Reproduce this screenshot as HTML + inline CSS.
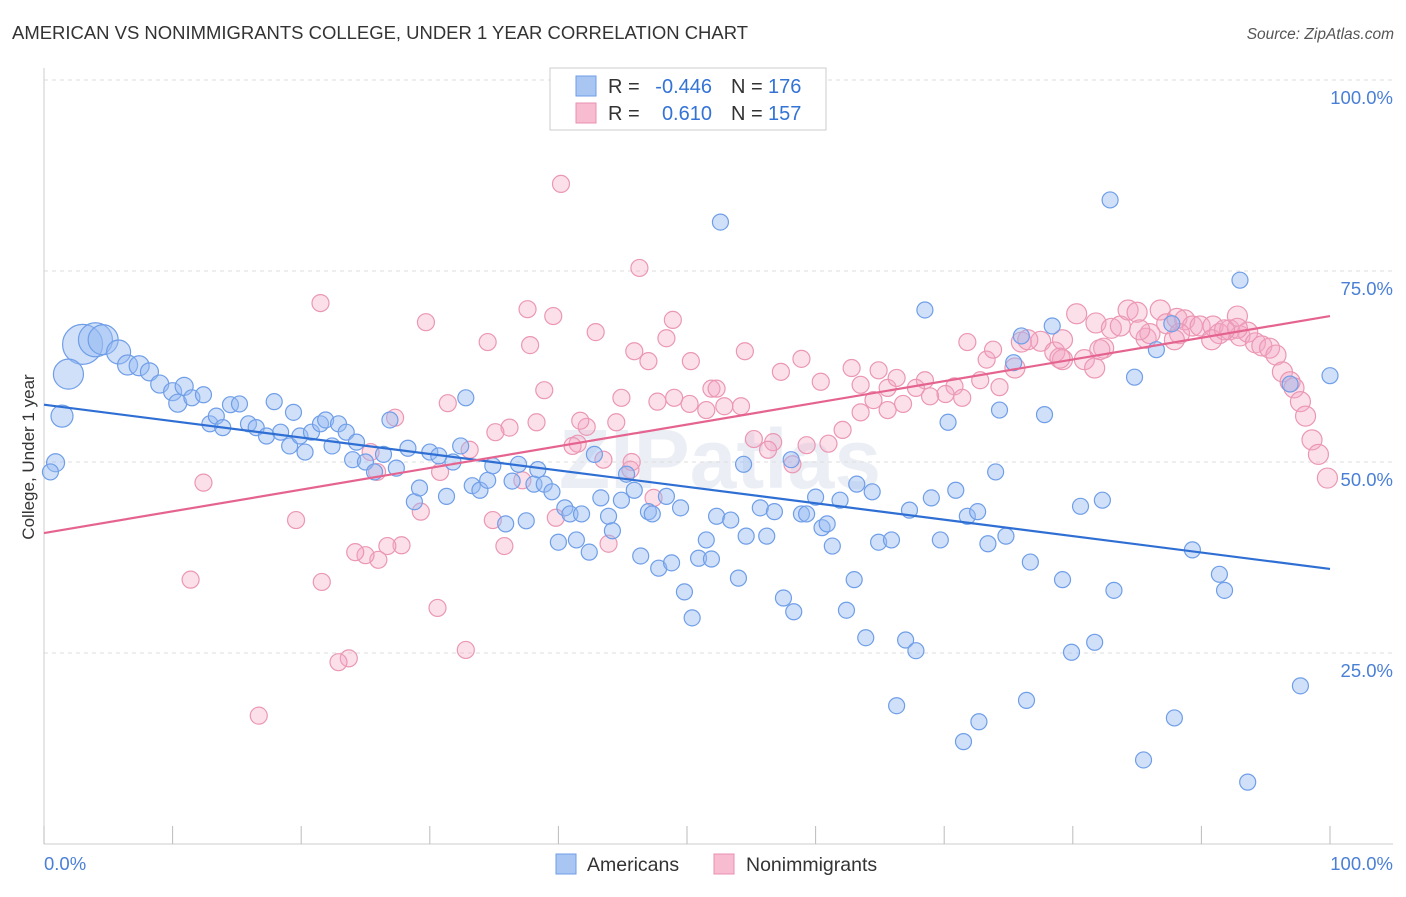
<!DOCTYPE html>
<html><head><meta charset="utf-8"><style>
body{margin:0;background:#fff;font-family:"Liberation Sans",sans-serif;}
svg text{font-family:"Liberation Sans",sans-serif;}
</style></head><body>
<svg id="chart" width="1406" height="892" viewBox="0 0 1406 892" xmlns="http://www.w3.org/2000/svg">
<text x="12" y="39" font-size="18.6" fill="#333" textLength="736" lengthAdjust="spacingAndGlyphs">AMERICAN VS NONIMMIGRANTS COLLEGE, UNDER 1 YEAR CORRELATION CHART</text>
<text x="1394" y="39" font-size="15.5" fill="#555" text-anchor="end" font-style="italic">Source: ZipAtlas.com</text>
<text x="720" y="488" font-size="84" fill="#dfe6ef" text-anchor="middle" font-weight="bold" opacity="0.6">ZIPatlas</text>
<g id="grid"></g>
<g id="marks"></g>
<g id="trends"></g>
<text transform="translate(34,457) rotate(-90)" font-size="17" fill="#333" text-anchor="middle">College, Under 1 year</text>
<text x="44" y="870" font-size="18.5" fill="#4a7fd6">0.0%</text>
<text x="1393" y="870" font-size="18.5" fill="#4a7fd6" text-anchor="end">100.0%</text>
<g>
<rect x="550" y="68" width="276" height="62" fill="#fff" stroke="#ccc"/>
<rect x="576" y="76" width="20" height="20" fill="#a9c6f3" stroke="#6f9ee8"/>
<rect x="576" y="103" width="20" height="20" fill="#f7bccf" stroke="#e990b0"/>
<text x="608" y="93" font-size="20" fill="#333">R =</text>
<text x="712" y="93" font-size="20" fill="#3373d6" text-anchor="end">-0.446</text>
<text x="731" y="93" font-size="20" fill="#333">N =</text>
<text x="768" y="93" font-size="20" fill="#3373d6">176</text>
<text x="608" y="120" font-size="20" fill="#333">R =</text>
<text x="712" y="120" font-size="20" fill="#3373d6" text-anchor="end">0.610</text>
<text x="731" y="120" font-size="20" fill="#333">N =</text>
<text x="768" y="120" font-size="20" fill="#3373d6">157</text>
</g>
<g>
<rect x="556" y="854" width="20" height="20" fill="#a9c6f3" stroke="#6f9ee8"/>
<text x="587" y="871" font-size="19.5" fill="#333">Americans</text>
<rect x="714" y="854" width="20" height="20" fill="#f7bccf" stroke="#e990b0"/>
<text x="746" y="871" font-size="19.5" fill="#333">Nonimmigrants</text>
</g>
</svg>
<script>
const yTicks=[25,50,75,100];
const yTickLabels=["25.0%","50.0%","75.0%","100.0%"];
const xTicks=[0,10,20,30,40,50,60,70,80,90,100];
const blueX=[3.0,4.0,4.6,1.9,1.4,0.9,0.5,5.8,6.5,7.4,8.2,9.0,10.0,10.9,10.4,11.5,12.4,12.9,13.4,13.9,14.5,15.2,15.9,16.5,17.3,17.9,18.4,19.1,19.4,20.3,19.9,20.8,21.5,21.9,22.4,22.9,23.5,24.0,24.3,25.0,25.7,26.4,26.9,27.4,28.3,28.8,29.2,30.0,30.7,31.3,31.8,32.4,32.8,33.3,33.9,34.5,34.9,35.9,36.4,36.9,37.5,38.1,38.4,38.9,39.5,40.0,40.5,40.9,41.4,41.8,42.4,42.8,43.3,43.9,44.2,44.9,45.3,45.9,46.4,47.0,47.3,47.8,48.4,48.8,49.5,49.8,50.4,50.9,51.5,51.9,52.3,52.6,53.4,54.0,54.4,54.6,55.7,56.2,56.8,57.5,58.1,58.3,58.9,59.3,60.0,60.5,60.9,61.3,61.9,62.4,63.0,63.2,63.9,64.4,64.9,65.9,66.3,67.0,67.3,67.8,68.5,69.0,69.7,70.3,70.9,71.5,71.8,72.6,72.7,73.4,74.0,74.3,74.8,75.4,76.0,76.4,76.7,77.8,78.4,79.2,79.9,80.6,81.7,82.3,82.9,83.2,84.8,85.5,86.5,87.7,87.9,89.3,91.4,91.8,93.0,93.6,96.9,97.7,100];
const blueY=[65.4,66.0,66.0,61.5,56.0,49.9,48.7,64.4,62.7,62.6,61.8,60.2,59.2,59.9,57.7,58.4,58.8,55.0,56.0,54.5,57.5,57.6,55.0,54.5,53.4,57.9,53.9,52.1,56.5,51.3,53.4,53.9,55.0,55.5,52.1,55.0,53.9,50.3,52.6,50.0,48.7,51.0,55.5,49.2,51.8,44.8,46.6,51.3,50.8,45.5,50.0,52.1,58.4,46.9,46.3,47.6,49.5,41.9,47.5,49.7,42.3,47.1,49.0,47.1,46.1,39.5,44.0,43.2,39.8,43.2,38.2,51.0,45.3,42.9,41.0,45.0,48.4,46.3,37.7,43.5,43.2,36.1,45.5,36.8,44.0,33.0,29.6,37.4,39.8,37.3,42.9,81.4,42.4,34.8,49.7,40.3,44.0,40.3,43.5,32.2,50.3,30.4,43.2,43.2,45.4,41.4,41.9,39.0,45.0,30.6,34.6,47.1,27.0,46.1,39.5,39.8,18.1,26.7,43.7,25.3,69.9,45.3,39.8,55.2,46.3,13.4,42.9,43.5,16.0,39.3,48.7,56.8,40.3,63.0,66.5,18.8,36.9,56.2,67.8,34.6,25.1,44.2,26.4,45.0,84.3,33.2,61.1,11.0,64.7,68.1,16.5,38.5,35.3,33.2,73.8,8.1,60.2,20.7,61.3];
const blueSize=[20,17,15,15,11,9,8,12,10,10,9,9,9,9,9];
const pinkX=[40.2,46.3,21.5,29.7,37.6,39.6,42.9,34.5,37.8,45.9,47.0,48.4,48.9,50.3,54.5,51.9,52.3,57.3,58.9,60.4,62.8,64.9,63.5,65.6,66.3,68.5,70.8,71.8,73.3,74.3,75.5,76.0,77.5,78.6,79.2,80.3,80.9,81.8,82.4,83.0,83.7,84.3,85.0,85.7,86.0,86.8,87.3,88.1,88.7,89.3,89.9,90.9,91.4,92.2,92.8,93.0,93.6,94.2,94.7,95.3,95.8,96.3,96.9,97.2,97.7,98.1,98.6,99.1,99.8,81.7,79.2,76.5,73.8,72.8,71.4,70.1,68.9,67.8,66.8,65.6,64.5,63.5,62.1,61.0,59.3,58.2,56.7,56.3,55.2,54.2,52.9,51.5,50.2,49.0,47.7,47.4,45.6,44.9,44.5,43.5,42.2,41.7,41.5,41.1,39.8,38.9,38.3,37.2,36.2,35.8,35.1,34.9,33.1,31.4,30.8,29.3,27.8,27.3,26.7,25.9,26.0,25.4,25.0,24.2,23.7,22.9,21.6,19.6,16.7,12.4,11.4,30.6,32.8,43.9,45.7,88.3,90.8,87.9,85.2,82.1,79.0,92.8,91.8];
const pinkY=[86.4,75.4,70.8,68.3,70.0,69.1,67.0,65.7,65.3,64.5,63.2,66.2,68.6,63.2,64.5,59.6,59.6,61.8,63.5,60.5,62.3,62.0,60.1,59.7,61.0,60.7,59.9,65.7,63.4,59.8,62.3,65.7,65.8,64.4,66.0,69.4,63.4,68.2,64.9,67.5,67.8,69.9,69.6,66.2,66.8,69.9,68.1,68.8,68.6,67.8,67.8,67.8,66.8,67.3,69.1,66.5,67.0,65.6,65.2,64.9,64.0,61.8,60.5,59.7,57.9,56.0,52.9,51.0,47.9,62.3,63.4,66.0,64.7,60.7,58.4,58.9,58.6,59.7,57.6,56.8,58.1,56.5,54.2,52.4,52.2,49.7,52.6,51.6,53.0,57.3,57.3,56.8,57.6,58.4,57.9,45.3,49.0,58.4,55.2,50.3,54.6,55.4,52.4,52.1,42.7,59.4,55.2,47.6,54.5,39.0,53.9,42.4,51.6,57.7,48.7,43.5,39.1,55.8,39.0,48.7,37.2,51.3,37.8,38.2,24.3,23.8,34.3,42.4,16.8,47.3,34.6,30.9,25.4,39.3,50.0,66.8,66.0,66.0,67.3,64.7,63.6,67.5,67.3];
const blueTrend=[57.5,36.0];
const pinkTrend=[40.7,69.1];
const NS="http://www.w3.org/2000/svg";
const X0=44,X1=1330,Y0=844,Y1=80;
function sx(v){return X0+(X1-X0)*v/100;}
function sy(v){return Y0-(Y0-Y1)*v/100;}
function mk(tag,attrs,parent){const e=document.createElementNS(NS,tag);for(const k in attrs)e.setAttribute(k,attrs[k]);parent.appendChild(e);return e;}
const grid=document.getElementById('grid');
yTicks.forEach((t,i)=>{
  const l=mk('line',{x1:X0,x2:1393,y1:sy(t),y2:sy(t),stroke:'#ddd','stroke-dasharray':'4,4'},grid);
  
  
  const tx=mk('text',{x:1393,y:sy(t)+24,'font-size':18.5,fill:'#4a7fd6','text-anchor':'end'},grid);
  tx.textContent=yTickLabels[i];
  
  
});
const ax=mk('line',{x1:X0,x2:1393,y1:Y0,y2:Y0,stroke:'#ccc'},grid);


const ay=mk('line',{x1:X0,x2:X0,y1:68,y2:Y0,stroke:'#ccc'},grid);


xTicks.forEach(t=>{
  const l=mk('line',{x1:sx(t),x2:sx(t),y1:826,y2:Y0,stroke:'#bbb'},grid);
  
  
});
const marks=document.getElementById('marks');
pinkX.forEach((x,i)=>{
  const c=mk('circle',{cx:sx(x),cy:sy(pinkY[i]),r:x>75?10:8.5,fill:'rgba(244,166,194,0.35)',stroke:'#eb97b4','stroke-width':1.2},marks);
  
  
});
blueX.forEach((x,i)=>{
  const c=mk('circle',{cx:sx(x),cy:sy(blueY[i]),r:blueSize[i]||8,fill:'rgba(150,186,242,0.45)',stroke:'#6f9ee8','stroke-width':1.2},marks);
  
  
});
const tr=document.getElementById('trends');
const bl=mk('line',{x1:sx(0),y1:sy(blueTrend[0]),x2:sx(100),y2:sy(blueTrend[1]),stroke:'#2f6fd4','stroke-width':2.2},tr);


const pl=mk('line',{x1:sx(0),y1:sy(pinkTrend[0]),x2:sx(100),y2:sy(pinkTrend[1]),stroke:'#e5648f','stroke-width':2.2},tr);


</script>
</body></html>
